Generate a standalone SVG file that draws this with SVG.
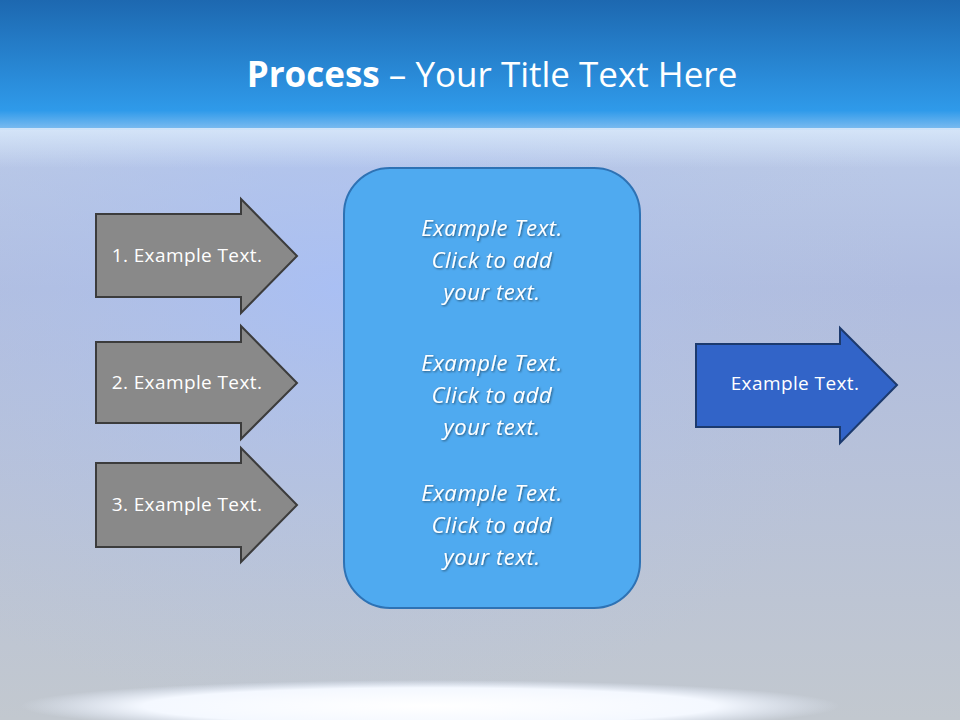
<svg xmlns="http://www.w3.org/2000/svg" width="960" height="720" viewBox="0 0 960 720">
<defs>
<linearGradient id="top" x1="0" y1="0" x2="0" y2="1"><stop offset="0" stop-color="#1d68b0"/><stop offset="0.85" stop-color="#2f9aea"/><stop offset="1" stop-color="#7fbdf0"/></linearGradient>
<linearGradient id="bg" x1="0" y1="0" x2="0" y2="1"><stop offset="0" stop-color="#c6d8f2"/><stop offset="0.4" stop-color="#b0bde0"/><stop offset="1" stop-color="#c2c8cf"/></linearGradient>
<radialGradient id="glow" cx="0.5" cy="0.5" r="0.5"><stop offset="0" stop-color="#ffffff"/><stop offset="0.7" stop-color="#f4f8ff"/><stop offset="1" stop-color="#e8f0ff" stop-opacity="0"/></radialGradient>
<radialGradient id="haze" cx="0.35" cy="0.4" r="0.6"><stop offset="0" stop-color="#a8c0f8" stop-opacity="0.8"/><stop offset="1" stop-color="#b8c4dc" stop-opacity="0"/></radialGradient>
<linearGradient id="fade" x1="0" y1="0" x2="0" y2="1"><stop offset="0" stop-color="#d8e8fa" stop-opacity="0.9"/><stop offset="1" stop-color="#d8e8fa" stop-opacity="0"/></linearGradient>
<filter id="sh"><feDropShadow dx="1" dy="1" stdDeviation="0.8" flood-color="#000" flood-opacity="0.5"/></filter>
<style>
.g{fill:#898989;stroke:#3c3c3c;stroke-width:2}
.t{font-family:"Open Sans","Liberation Sans",sans-serif;fill:#fff;font-size:19px;letter-spacing:0.4px;text-anchor:middle}
.c{font-family:"Open Sans","Liberation Sans",sans-serif;fill:#fff;font-size:22px;letter-spacing:0.6px;font-style:italic;text-anchor:middle;filter:url(#sh)}
</style>
</defs>
<rect width="960" height="720" fill="url(#bg)"/>
<rect width="960" height="720" fill="url(#haze)"/>
<rect width="960" height="130" fill="url(#top)"/>
<rect y="128" width="960" height="40" fill="url(#fade)"/>
<ellipse cx="430" cy="706" rx="410" ry="26" fill="url(#glow)"/>
<text x="492" y="87" font-family="'Open Sans','Liberation Sans',sans-serif" font-size="35" fill="#fff" text-anchor="middle"><tspan font-weight="bold">Process</tspan> – Your Title Text Here</text>
<g id="a1"><path class="g" d="M96 214H241V199L297 256L241 313V297H96Z"/><text class="t" x="187" y="262">1. Example Text.</text></g>
<g id="a2"><path class="g" d="M96 342H241V326L297 383L241 439V423H96Z"/><text class="t" x="187" y="389">2. Example Text.</text></g>
<g id="a3"><path class="g" d="M96 463H241V448L297 505L241 562V547H96Z"/><text class="t" x="187" y="511">3. Example Text.</text></g>
<g id="box"><rect x="344" y="168" width="296" height="440" rx="46" fill="#4faaf0" stroke="#2e72b4" stroke-width="2"/>
<text class="c" x="492" y="236">Example Text.</text><text class="c" x="492" y="268">Click  to add</text><text class="c" x="492" y="300">your text.</text>
<text class="c" x="492" y="371">Example Text.</text><text class="c" x="492" y="403">Click  to add</text><text class="c" x="492" y="435">your text.</text>
<text class="c" x="492" y="501">Example Text.</text><text class="c" x="492" y="533">Click  to add</text><text class="c" x="492" y="565">your text.</text></g>
<g id="out"><path d="M696 344H840V328L897 385L840 443V427H696Z" fill="#3264c8" stroke="#1c3a6e" stroke-width="2"/><text class="t" x="795" y="390">Example Text.</text></g>
</svg>
